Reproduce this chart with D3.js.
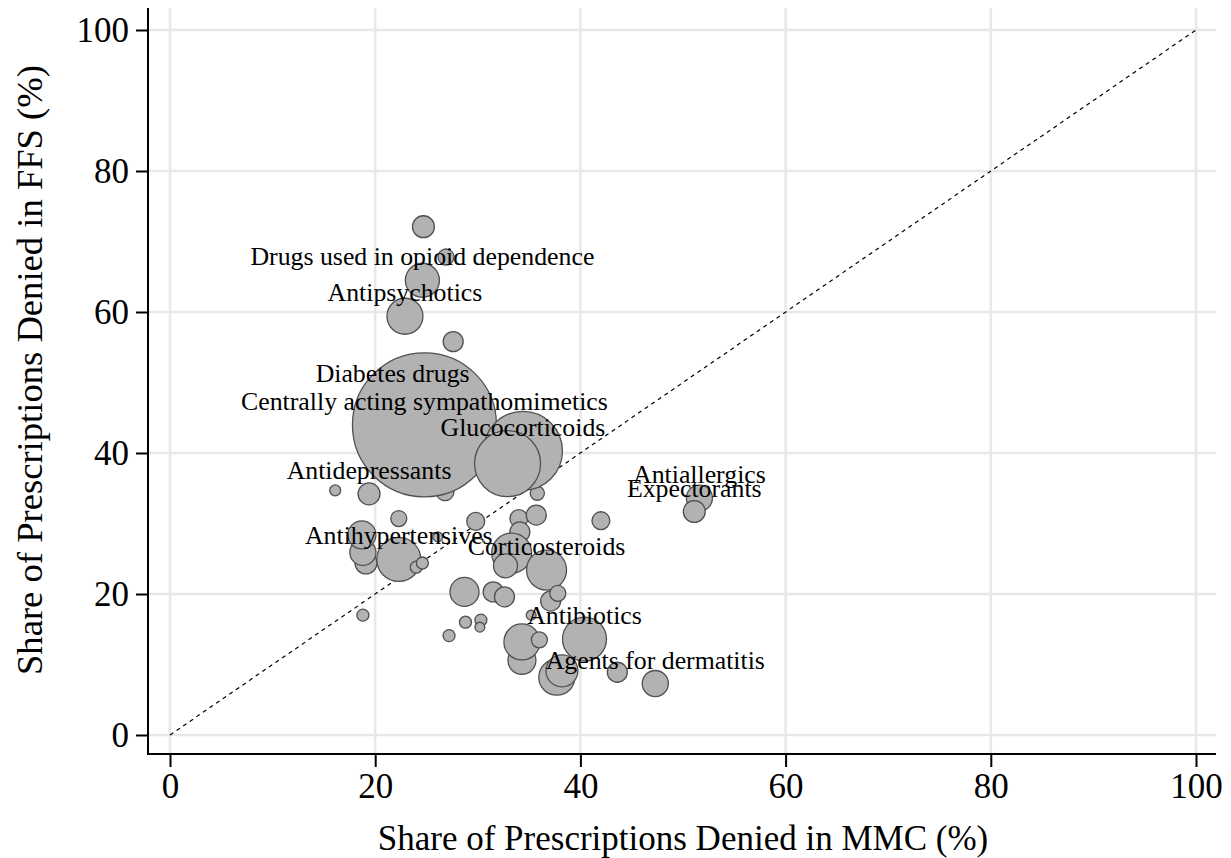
<!DOCTYPE html>
<html>
<head>
<meta charset="utf-8">
<script src="https://cdn.jsdelivr.net/npm/d3@7"></script>
<style>
  html, body { margin: 0; padding: 0; background: #fff; }
  svg { display: block; font-family: "Liberation Serif", "Times New Roman", serif; }
</style>
</head>
<body>
<svg id="chart" width="1231" height="858"></svg>
<script>
// Share of prescriptions denied, by drug class (draw order = array order)
const mmcShare = [21.7, 26.8, 35.8, 16.1, 19.4,
  24.8, 34.4, 32.9,
  24.7, 26.9, 24.6, 22.9, 27.6,
  22.3, 19.1, 18.8, 18.7, 22.3, 24.0, 24.6, 29.8, 26.1,
  34.0, 35.7, 34.1, 33.3, 32.7, 36.7, 42.0,
  18.8, 28.7, 31.5, 32.6, 28.8, 30.3, 30.2, 27.2, 37.1, 37.8, 35.2,
  34.3, 34.3, 36.0, 40.4, 37.7, 38.2, 43.6, 47.3, 51.6, 51.1];
const ffsShare = [47.9, 34.5, 34.3, 34.7, 34.2,
  44.0, 40.3, 38.5,
  72.1, 67.8, 64.5, 59.4, 55.8,
  30.7, 24.4, 25.9, 28.4, 24.9, 23.8, 24.4, 30.3, 28.1,
  30.7, 31.2, 28.8, 25.8, 24.0, 23.4, 30.4,
  17.0, 20.3, 20.3, 19.6, 16.0, 16.3, 15.3, 14.1, 19.0, 20.1, 17.0,
  10.6, 13.2, 13.5, 13.6, 8.2, 9.1, 8.9, 7.3, 33.6, 31.7];
// Prescription volume, sets the bubble area
const rxVolume = [112, 40, 25, 15, 60,
  2592, 780, 545,
  60, 32, 145, 162, 50,
  32, 60, 85, 98, 242, 18, 18, 40, 12,
  40, 50, 50, 200, 72, 200, 40,
  18, 105, 50, 50, 18, 18, 12, 18, 50, 32, 12,
  98, 162, 32, 242, 162, 128, 50, 85, 85, 60];
const drugClass = ["Diabetes drugs", "", "", "", "Antidepressants",
  "Centrally acting sympathomimetics", "Glucocorticoids", "",
  "", "", "Drugs used in opioid dependence", "Antipsychotics", "",
  "", "", "", "", "Antihypertensives", "", "", "", "",
  "", "", "", "", "", "Corticosteroids", "",
  "", "", "", "", "", "", "", "", "", "", "",
  "", "", "", "Antibiotics", "", "", "", "Agents for dermatitis", "Antiallergics", "Expectorants"];

const axisTicks = [0, 20, 40, 60, 80, 100];
const xTitle = "Share of Prescriptions Denied in MMC (%)";
const yTitle = "Share of Prescriptions Denied in FFS (%)";

const svg = d3.select("#chart");
const plot = { left: 148, right: 1216, top: 8, bottom: 754 };

const x = d3.scaleLinear().domain([0, 100]).range([170, 1196]);
const y = d3.scaleLinear().domain([0, 100]).range([735, 30]);
const r = d3.scaleSqrt().domain([0, d3.max(rxVolume)]).range([0, 72]);

const data = mmcShare.map((v, i) => ({ x: v, y: ffsShare[i], w: rxVolume[i], label: drugClass[i] }));

// Grid
const grid = svg.append("g").attr("stroke", "#e8e8e8").attr("stroke-width", 2.5);
grid.selectAll("line.h").data(axisTicks).join("line")
  .attr("x1", plot.left).attr("x2", plot.right)
  .attr("y1", d => y(d)).attr("y2", d => y(d));
grid.selectAll("line.v").data(axisTicks).join("line")
  .attr("y1", plot.top).attr("y2", plot.bottom)
  .attr("x1", d => x(d)).attr("x2", d => x(d));

// 45-degree reference line
svg.append("line")
  .attr("x1", x(0)).attr("y1", y(0)).attr("x2", x(100)).attr("y2", y(100))
  .attr("stroke", "#000").attr("stroke-width", 1.2).attr("stroke-dasharray", "4,4");

// Bubbles
svg.append("g").selectAll("circle").data(data).join("circle")
  .attr("cx", d => x(d.x)).attr("cy", d => y(d.y)).attr("r", d => r(d.w))
  .attr("fill", "#b2b2b2").attr("stroke", "#505050").attr("stroke-width", 1.3);

// Labels above the bubbles
svg.append("g").selectAll("text").data(data.filter(d => d.label)).join("text")
  .attr("x", d => x(d.x)).attr("y", d => y(d.y) - 24).attr("dy", "0.35em")
  .attr("text-anchor", "middle").attr("font-size", 25.8).attr("fill", "#000")
  .text(d => d.label);

// Axes
const xAxis = d3.axisBottom(x).tickValues(axisTicks).tickSize(13).tickPadding(6).tickFormat(d3.format("d"));
const yAxis = d3.axisLeft(y).tickValues(axisTicks).tickSize(12).tickPadding(7).tickFormat(d3.format("d"));

const gx = svg.append("g").attr("transform", `translate(0,${plot.bottom})`).call(xAxis);
gx.select(".domain").remove();
gx.append("line").attr("x1", plot.left).attr("x2", plot.right).attr("stroke", "#000").attr("stroke-width", 2);
const gy = svg.append("g").attr("transform", `translate(${plot.left},0)`).call(yAxis);
gy.select(".domain").remove();
gy.append("line").attr("y1", plot.top).attr("y2", plot.bottom + 1).attr("stroke", "#000").attr("stroke-width", 2);

[gx, gy].forEach(g => {
  g.selectAll(".tick line").attr("stroke", "#000").attr("stroke-width", 2);
  g.selectAll(".tick text").attr("font-size", 35).attr("fill", "#000")
    .attr("font-family", "Liberation Serif, Times New Roman, serif");
});

svg.append("text").attr("x", (x(0) + x(100)) / 2).attr("y", 838).attr("dy", "0.35em")
  .attr("text-anchor", "middle").attr("font-size", 35).text(xTitle);
svg.append("text").attr("transform", `translate(30,370) rotate(-90)`)
  .attr("dy", "0.35em").attr("text-anchor", "middle").attr("font-size", 35)
  .attr("textLength", 610).attr("lengthAdjust", "spacingAndGlyphs").text(yTitle);
</script>
</body>
</html>
